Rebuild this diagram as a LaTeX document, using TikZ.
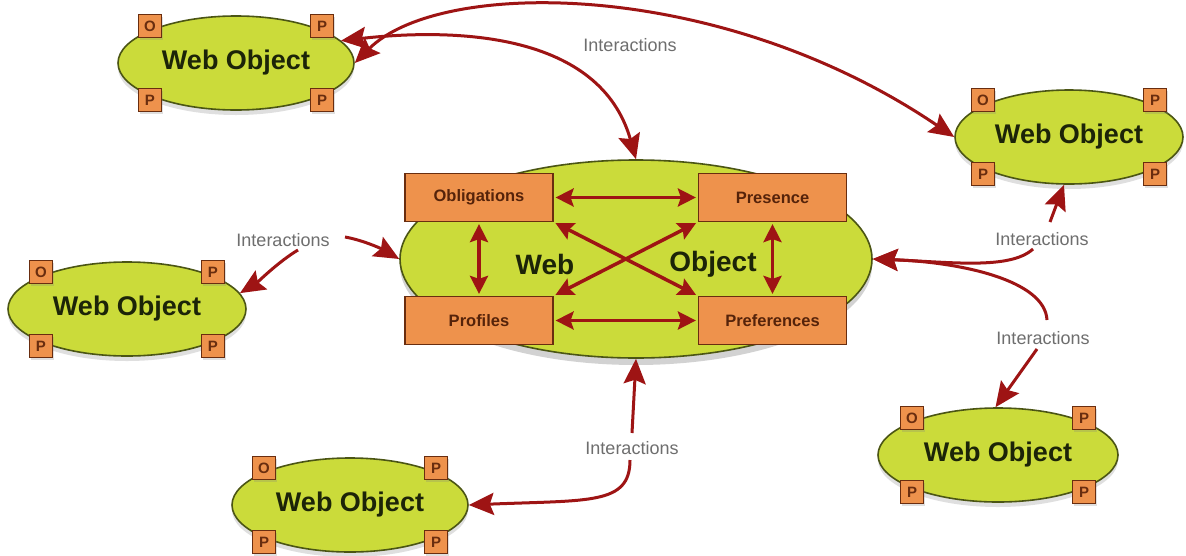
\documentclass[tikz,border=0pt]{standalone}
\usepackage{fontspec}
\setmainfont{Liberation Sans}
\usetikzlibrary{arrows.meta,shapes.geometric,shadows}
\definecolor{wofill}{RGB}{203,219,58}
\definecolor{woline}{RGB}{75,85,20}
\definecolor{boxfill}{RGB}{238,146,76}
\definecolor{boxline}{RGB}{105,45,15}
\definecolor{arrowred}{RGB}{158,20,20}
\definecolor{labelgray}{RGB}{110,110,110}
\definecolor{wotextc}{RGB}{28,36,8}
\definecolor{boxtext}{RGB}{85,35,10}
\tikzset{
  wo/.style={ellipse, draw=woline, line width=1.6pt, fill=wofill, inner sep=0pt,
    minimum height=94pt, text=wotextc, font=\bfseries\fontsize{27}{30}\selectfont,
    drop shadow={opacity=0.25, shadow xshift=0pt, shadow yshift=-5pt}},
  sq/.style={rectangle, draw=boxline, line width=1.2pt, fill=boxfill, minimum size=23pt,
    inner sep=0pt, text=boxline, font=\bfseries\fontsize{15}{15}\selectfont,
    drop shadow={opacity=0.25, shadow xshift=1pt, shadow yshift=-2pt}},
  core/.style={ellipse, draw=woline, line width=1.6pt, fill=wofill, inner sep=0pt,
    minimum width=472pt, minimum height=198pt,
    drop shadow={opacity=0.35, shadow xshift=0pt, shadow yshift=-7pt}},
  corebox/.style={rectangle, draw=boxline, line width=1.2pt, fill=boxfill, minimum width=148pt,
    minimum height=48pt, inner sep=0pt, text=boxtext, font=\bfseries\fontsize{16.5}{18}\selectfont},
  coretext/.style={text=wotextc, font=\bfseries\fontsize{28}{30}\selectfont, inner sep=0pt},
  lab/.style={text=labelgray, font=\fontsize{18}{20}\selectfont, inner sep=1pt},
  arr/.style={draw=arrowred, line width=3pt, -{Stealth[length=25pt,width=22pt,inset=4pt]}},
  darr/.style={draw=arrowred, line width=3pt, {Stealth[length=25pt,width=22pt,inset=4pt]}-{Stealth[length=25pt,width=22pt,inset=4pt]}},
  inarr/.style={draw=arrowred, line width=3.5pt, {Stealth[length=18pt,width=18pt,inset=3pt]}-{Stealth[length=18pt,width=18pt,inset=3pt]}, shorten <=2pt, shorten >=2pt}
}
\newcommand{\webobj}[4]{%
  \node[wo, minimum width=#4pt] (#1) at (#2,#3) {Web Object};
  \node[sq] (#1-o) at ([shift={(-86,-37)}]#1.center) {O};
  \node[sq] (#1-p1) at ([shift={(86,-37)}]#1.center) {P};
  \node[sq] (#1-p2) at ([shift={(-86,37)}]#1.center) {P};
  \node[sq] (#1-p3) at ([shift={(86,37)}]#1.center) {P};
}
\begin{document}
\begin{tikzpicture}[x=1pt,y=-1pt]
\useasboundingbox[fill=white] (0,0) rectangle (1186,555);

% central web object
\node[core] (core) at (636,259) {};
\node[corebox] (obl) at (479,197.5) {Obligations};
\node[corebox] (pre) at (772.5,197.5) {Presence};
\node[corebox] (pro) at (479,320.5) {Profiles};
\node[corebox] (prf) at (772.5,320.5) {Preferences};
\node[coretext] (cweb) at (545,264) {Web};
\node[coretext] (cobj) at (713,264) {Object};
\draw[inarr] (obl.east) -- (pre.west);
\draw[inarr] (pro.east) -- (prf.west);
\draw[inarr] (obl.south) -- (pro.north);
\draw[inarr] (pre.south) -- (prf.north);
\draw[inarr] (obl.south east) -- (prf.north west);
\draw[inarr] (pre.south west) -- (pro.north east);

% outer web objects
\webobj{tl}{236}{63}{236}
\webobj{tr}{1069}{137}{228}
\webobj{lw}{127}{309}{238}
\webobj{bw}{350}{505}{236}
\webobj{br}{998}{455}{240}

% labels
\node[lab] (ltop) at (630,45) {Interactions};
\node[lab] (lleft) at (283,240) {Interactions};
\node[lab] (lr1) at (1042,239) {Interactions};
\node[lab] (lr2) at (1043,338) {Interactions};
\node[lab] (lbot) at (632,448) {Interactions};

% top connectors
\draw[darr] (tl.east) .. controls (440,-22) and (720,-22) .. (tr.west);
\draw[darr] (tl.12) .. controls (455,28) and (600,32) .. (core.north);

% left connectors
\coordinate (l1s) at (298,250);
\coordinate (l2s) at (345,237);
\draw[arr] (l1s) .. controls (278,262) and (258,282) .. (lw.8);
\draw[arr] (l2s) .. controls (362,240) and (380,248) .. (core.west);

% right connectors
\coordinate (r1s) at (1033,249);
\coordinate (r1u) at (1050,222);
\coordinate (r2s) at (1047,320);
\coordinate (r2d) at (1037,349);
\draw[arr] (r1u) -- (tr.-96);
\draw[arr] (r1s) .. controls (1010,270) and (950,262) .. (core.east);
\draw[arr] (r2s) .. controls (1045,280) and (960,262) .. (core.east);
\draw[arr] (r2d) -- (br.93);

% bottom connectors
\coordinate (b1s) at (632,433);
\coordinate (b2s) at (630,460);
\draw[arr] (b1s) -- (core.south);
\draw[arr] (b2s) .. controls (630,505) and (590,500) .. (bw.east);
\end{tikzpicture}
\end{document}
